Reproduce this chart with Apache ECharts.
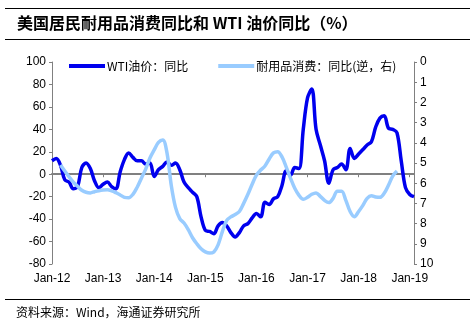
<!DOCTYPE html>
<html>
<head>
<meta charset="utf-8">
<script src="https://cdn.jsdelivr.net/npm/echarts@6/dist/echarts.min.js"></script>
<style>
html,body{margin:0;padding:0;background:#fff;}
#c{width:476px;height:329px;}
</style>
</head>
<body>
<div id="c"></div>
<script>
var months = [
 'Jan-12','Feb-12','Mar-12','Apr-12','May-12','Jun-12','Jul-12','Aug-12','Sep-12','Oct-12','Nov-12','Dec-12',
 'Jan-13','Feb-13','Mar-13','Apr-13','May-13','Jun-13','Jul-13','Aug-13','Sep-13','Oct-13','Nov-13','Dec-13',
 'Jan-14','Feb-14','Mar-14','Apr-14','May-14','Jun-14','Jul-14','Aug-14','Sep-14','Oct-14','Nov-14','Dec-14',
 'Jan-15','Feb-15','Mar-15','Apr-15','May-15','Jun-15','Jul-15','Aug-15','Sep-15','Oct-15','Nov-15','Dec-15',
 'Jan-16','Feb-16','Mar-16','Apr-16','May-16','Jun-16','Jul-16','Aug-16','Sep-16','Oct-16','Nov-16','Dec-16',
 'Jan-17','Feb-17','Mar-17','Apr-17','May-17','Jun-17','Jul-17','Aug-17','Sep-17','Oct-17','Nov-17','Dec-17',
 'Jan-18','Feb-18','Mar-18','Apr-18','May-18','Jun-18','Jul-18','Aug-18','Sep-18','Oct-18','Nov-18','Dec-18',
 'Jan-19','Feb-19'
];
var wtiYoY = [
 12, 14, 8, -5, -7, -13, -11, 6, 10, 5, -6, -12,
 -9, -7, -11, -13, 2, 13, 19, 15, 12, 12, 9, 10,
 -2, 4, 7, 11, 8, 10, 4, -7, -12, -16, -20, -38,
 -50, -51, -53, -46, -43, -46, -52, -56, -52, -46, -44, -39,
 -35, -38, -25, -27, -22, -20, -10, 3, -1, 6, 5, 40,
 68, 76, 40, 26, 12, -8, 4, 6, 9, 4, 23, 14,
 18, 22, 26, 29, 42, 50, 52, 41, 40, 37, 12, -12,
 -18, -20
];
var durableYoY = [
 null, null, 5.1, 5.4, 5.68, 5.95, 6.15, 6.35, 6.45, 6.48, 6.42, 6.37,
 6.34, 6.33, 6.38, 6.47, 6.58, 6.7, 6.72, 6.55, 6.2, 5.75, 5.3, 4.75,
 4.35, 3.98, 3.86, 4.5, 6.1, 7.2, 7.75, 7.97, 8.3, 8.7, 9.0, 9.25,
 9.4, 9.46, 9.4, 9.05, 8.4, 7.85, 7.67, 7.55, 7.4, 7.0, 6.55, 6.05,
 5.6, 5.35, 5.15, 4.8, 4.5, 4.44, 4.7, 5.2, 5.75, 6.25, 6.6, 6.8,
 6.7, 6.55, 6.48, 6.65, 6.85, 6.96, 6.75, 6.4, 6.4, 6.85, 7.4, 7.66,
 7.4, 7.1, 6.75, 6.62, 6.68, 6.7, 6.5, 6.1, 5.65, 5.4, null, null,
 null, null
];
var seriesNames = ['WTI油价：同比', '耐用品消费：同比(逆，右)'];
var titleText = '美国居民耐用品消费同比和 WTI 油价同比（%）';
var sourceText = '资料来源：Wind，海通证券研究所';

var chart = echarts.init(document.getElementById('c'), null, {renderer: 'canvas'});
var axisFont = {fontFamily: 'Liberation Sans, Arial, sans-serif', fontSize: 12, color: '#000'};
chart.setOption({
  animation: false,
  backgroundColor: '#fff',
  graphic: [
    {type: 'line', shape: {x1: 5, y1: 8.5, x2: 470, y2: 8.5}, style: {stroke: '#000', lineWidth: 1}},
    {type: 'line', shape: {x1: 5, y1: 39.5, x2: 470, y2: 39.5}, style: {stroke: '#000', lineWidth: 1}},
    {type: 'line', shape: {x1: 5, y1: 299.5, x2: 470, y2: 299.5}, style: {stroke: '#000', lineWidth: 1}},
    {type: 'text', left: 17, top: 15, style: {text: titleText, font: 'bold 16px "Noto Sans CJK SC", sans-serif', fill: '#000'}},
    {type: 'text', left: 16, top: 306, style: {text: sourceText, font: '12px "Noto Sans CJK SC", sans-serif', fill: '#000'}}
  ],
  legend: {
    left: 64, top: 55,
    itemWidth: 36, itemHeight: 4, itemGap: 30,
    icon: 'rect',
    textStyle: {fontFamily: '"Noto Sans CJK SC", sans-serif', fontSize: 12, color: '#000', padding: [0,0,0,-3]},
    data: seriesNames
  },
  grid: {left: 52, right: 62, top: 62, bottom: 65, containLabel: false},
  xAxis: [
    {
      type: 'category', data: months, boundaryGap: false, position: 'bottom',
      axisLine: {show: false, onZero: false}, axisTick: {show: false},
      axisLabel: Object.assign({interval: 11, margin: 9}, axisFont),
      splitLine: {show: false}
    },
    {
      type: 'category', data: months, boundaryGap: false, position: 'bottom',
      axisLine: {show: true, onZero: true, lineStyle: {color: '#808080', width: 2}},
      axisTick: {show: true, interval: 11, length: 3, lineStyle: {color: '#808080', width: 1}},
      axisLabel: {show: false},
      splitLine: {show: false}
    }
  ],
  yAxis: [
    {
      type: 'value', min: -80, max: 100, interval: 20,
      axisLine: {show: true, lineStyle: {color: '#808080', width: 1}},
      axisTick: {show: true, length: 3, lineStyle: {color: '#808080'}},
      axisLabel: Object.assign({margin: 6}, axisFont),
      splitLine: {show: false}
    },
    {
      type: 'value', min: 0, max: 10, interval: 1, inverse: true, position: 'right',
      axisLine: {show: true, lineStyle: {color: '#808080', width: 1}},
      axisTick: {show: true, length: 3, lineStyle: {color: '#808080'}},
      axisLabel: Object.assign({margin: 6}, axisFont),
      splitLine: {show: false}
    }
  ],
  series: [
    {
      name: seriesNames[0], type: 'line', xAxisIndex: 0, yAxisIndex: 0, data: wtiYoY,
      smooth: 0.35, symbol: 'none', lineStyle: {color: '#0000EE', width: 3.5}, itemStyle: {color: '#0000EE'}
    },
    {
      name: seriesNames[1], type: 'line', xAxisIndex: 0, yAxisIndex: 1, data: durableYoY,
      smooth: 0.35, symbol: 'none', lineStyle: {color: '#99CCFF', width: 3.5}, itemStyle: {color: '#99CCFF'}
    }
  ]
});
</script>
</body>
</html>
